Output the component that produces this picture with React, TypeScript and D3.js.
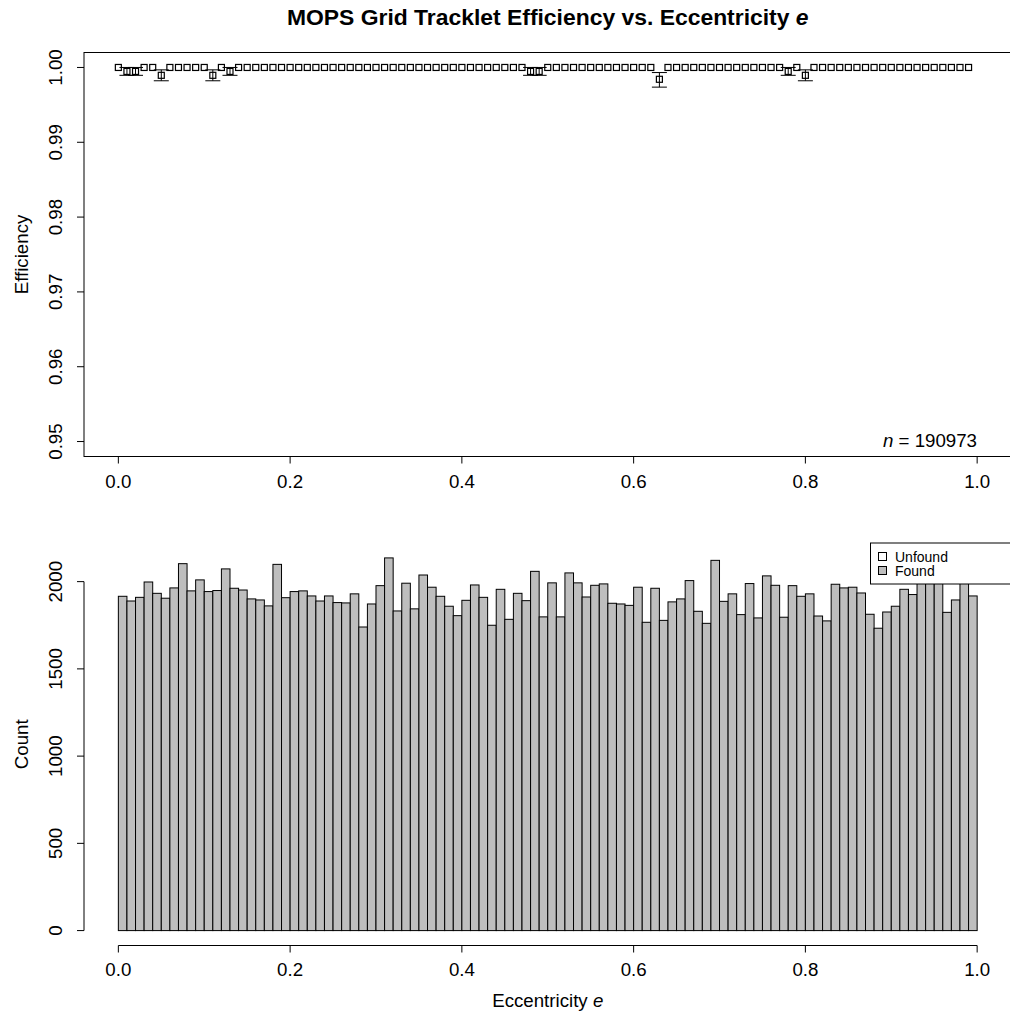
import React from "react";
import * as d3 from "d3";

// Histogram counts of found tracklets, 100 equal bins of eccentricity over [0, 1)
const foundCounts: number[] = [
  1916, 1889, 1910, 1998, 1933, 1905, 1964, 2103, 1947, 2010,
  1943, 1949, 2073, 1962, 1952, 1901, 1895, 1861, 2099, 1908,
  1943, 1947, 1918, 1889, 1918, 1880, 1878, 1930, 1740, 1872,
  1977, 2136, 1832, 1991, 1844, 2038, 1968, 1916, 1859, 1805,
  1893, 1981, 1910, 1750, 1956, 1784, 1933, 1891, 2059, 1798,
  1993, 1798, 2050, 1993, 1912, 1979, 1987, 1876, 1872, 1864,
  1968, 1767, 1962, 1778, 1884, 1901, 2006, 1830, 1761, 2122,
  1887, 1930, 1811, 1989, 1792, 2033, 1979, 1796, 1977, 1916,
  1930, 1803, 1775, 1985, 1964, 1968, 1935, 1813, 1733, 1826,
  1859, 1956, 1926, 2000, 2030, 2010, 1824, 1895, 2060, 1918,
];

// Bins whose efficiency is below 1, with their error-bar limits
const dipBins: number[] = [1, 2, 5, 11, 13, 48, 49, 63, 78, 80];
const dipEff: number[] = [0.99947, 0.99947, 0.99895, 0.99895, 0.99947, 0.99947, 0.99947, 0.99842, 0.99947, 0.99895];
const dipLow: number[] = [0.99895, 0.99895, 0.99822, 0.99822, 0.99895, 0.99895, 0.99895, 0.99737, 0.99895, 0.99822];
const dipHigh: number[] = [1.0, 1.0, 0.99968, 0.99968, 1.0, 1.0, 1.0, 0.99932, 1.0, 0.99968];

const xTicks: number[] = [0, 0.2, 0.4, 0.6, 0.8, 1.0];
const effTicks: number[] = [0.95, 0.96, 0.97, 0.98, 0.99, 1.0];
const countTicks: number[] = [0, 500, 1000, 1500, 2000];
const legendLabels: string[] = ["Unfound", "Found"];
const legendFills: string[] = ["#ffffff", "#bebebe"];
const totalN = 190973;

const nBins = foundCounts.length;
const binEdge = (i: number) => i / nBins;

const FONT = "'Liberation Sans', Arial, Helvetica, sans-serif";
const FS = 18.7;

export default function App() {
  const W = 1010;
  const H = 1019;

  // Shared horizontal layout (R-style 4% padding around [0, 1])
  const plotLeft = 84;
  const plotRight = 1011.5;
  const x = d3.scaleLinear().domain([-0.04, 1.04]).range([plotLeft, plotRight]);

  // Upper panel: efficiency
  const topY0 = 52.5;
  const topY1 = 456.5;
  const yEff = d3.scaleLinear().domain([0.948, 1.002]).range([topY1, topY0]);

  const efficiency: number[] = d3.range(nBins).map((i) => {
    const k = dipBins.indexOf(i);
    return k >= 0 ? dipEff[k] : 1.0;
  });

  // Lower panel: histogram
  const botY0 = 543;
  const botY1 = 945.5;
  const maxCount = d3.max(foundCounts) as number;
  const yCount = d3
    .scaleLinear()
    .domain([-0.04 * maxCount, 1.04 * maxCount])
    .range([botY1, botY0]);

  const sq = 6;
  const cap = 7.5;

  return (
    <svg
      width={W}
      height={H}
      viewBox={`0 0 ${W} ${H}`}
      style={{ position: "absolute", left: 0, top: 0, background: "#fff" }}
      fontFamily={FONT}
    >
      <rect x={0} y={0} width={W} height={H} fill="#fff" />

      {/* Title */}
      <text x={(plotLeft + plotRight) / 2} y={17} textAnchor="middle" dominantBaseline="central"
        fontSize={22.9} fontWeight="bold">
        MOPS Grid Tracklet Efficiency vs. Eccentricity <tspan fontStyle="italic">e</tspan>
      </text>

      {/* ---------- Efficiency panel ---------- */}
      <rect x={plotLeft} y={topY0} width={plotRight - plotLeft} height={topY1 - topY0}
        fill="none" stroke="#000" strokeWidth={1} />

      {xTicks.map((t) => (
        <g key={`tx${t}`}>
          <line x1={x(t)} x2={x(t)} y1={topY1} y2={topY1 + 7} stroke="#000" />
          <text x={x(t)} y={481} textAnchor="middle" dominantBaseline="central" fontSize={FS}>
            {t.toFixed(1)}
          </text>
        </g>
      ))}
      {effTicks.map((t) => (
        <g key={`ty${t}`}>
          <line x1={plotLeft} x2={plotLeft - 7} y1={yEff(t)} y2={yEff(t)} stroke="#000" />
          <text x={56} y={yEff(t)} textAnchor="middle" dominantBaseline="central" fontSize={FS}
            transform={`rotate(-90, 56, ${yEff(t)})`}>
            {t.toFixed(2)}
          </text>
        </g>
      ))}
      <text x={21} y={(topY0 + topY1) / 2} textAnchor="middle" dominantBaseline="central" fontSize={FS}
        transform={`rotate(-90, 21, ${(topY0 + topY1) / 2})`}>
        Efficiency
      </text>

      {/* error bars */}
      {dipBins.map((b, k) => {
        const cx = x(binEdge(b));
        return (
          <g key={`eb${b}`} stroke="#000" strokeWidth={1}>
            <line x1={cx} x2={cx} y1={yEff(dipLow[k])} y2={yEff(dipHigh[k])} />
            <line x1={cx - cap} x2={cx + cap} y1={yEff(dipLow[k])} y2={yEff(dipLow[k])} />
            <line x1={cx - cap} x2={cx + cap} y1={yEff(dipHigh[k])} y2={yEff(dipHigh[k])} />
          </g>
        );
      })}
      {/* efficiency points */}
      {efficiency.map((e, i) => (
        <rect key={`pt${i}`} x={x(binEdge(i)) - sq / 2} y={yEff(e) - sq / 2} width={sq} height={sq}
          fill="none" stroke="#000" strokeWidth={1.2} />
      ))}

      <text x={977} y={440} textAnchor="end" dominantBaseline="central" fontSize={FS}>
        <tspan fontStyle="italic">n</tspan> = {totalN}
      </text>

      {/* ---------- Count panel ---------- */}
      {foundCounts.map((c, i) => (
        <rect key={`bar${i}`} x={x(binEdge(i))} y={yCount(c)}
          width={x(binEdge(i + 1)) - x(binEdge(i))} height={yCount(0) - yCount(c)}
          fill="#bebebe" stroke="#000" strokeWidth={1} />
      ))}

      <line x1={plotLeft} x2={plotLeft} y1={yCount(0)} y2={yCount(2000)} stroke="#000" />
      {countTicks.map((t) => (
        <g key={`cy${t}`}>
          <line x1={plotLeft} x2={plotLeft - 7} y1={yCount(t)} y2={yCount(t)} stroke="#000" />
          <text x={56} y={yCount(t)} textAnchor="middle" dominantBaseline="central" fontSize={FS}
            transform={`rotate(-90, 56, ${yCount(t)})`}>
            {t}
          </text>
        </g>
      ))}
      <text x={21} y={(botY0 + botY1) / 2} textAnchor="middle" dominantBaseline="central" fontSize={FS}
        transform={`rotate(-90, 21, ${(botY0 + botY1) / 2})`}>
        Count
      </text>

      <line x1={x(0)} x2={x(1)} y1={botY1} y2={botY1} stroke="#000" />
      {xTicks.map((t) => (
        <g key={`bx${t}`}>
          <line x1={x(t)} x2={x(t)} y1={botY1} y2={botY1 + 7} stroke="#000" />
          <text x={x(t)} y={969} textAnchor="middle" dominantBaseline="central" fontSize={FS}>
            {t.toFixed(1)}
          </text>
        </g>
      ))}
      <text x={(plotLeft + plotRight) / 2} y={1000} textAnchor="middle" dominantBaseline="central" fontSize={FS}>
        Eccentricity <tspan fontStyle="italic">e</tspan>
      </text>

      {/* legend */}
      <g>
        <rect x={870.5} y={botY0} width={plotRight - 870.5} height={41} fill="#fff" stroke="#000" />
        {legendLabels.map((lab, i) => (
          <g key={lab}>
            <rect x={878.5} y={552.5 + i * 14} width={8} height={8} fill={legendFills[i]} stroke="#000" />
            <text x={895} y={557 + i * 14} dominantBaseline="central" fontSize={14}>
              {lab}
            </text>
          </g>
        ))}
      </g>
    </svg>
  );
}
